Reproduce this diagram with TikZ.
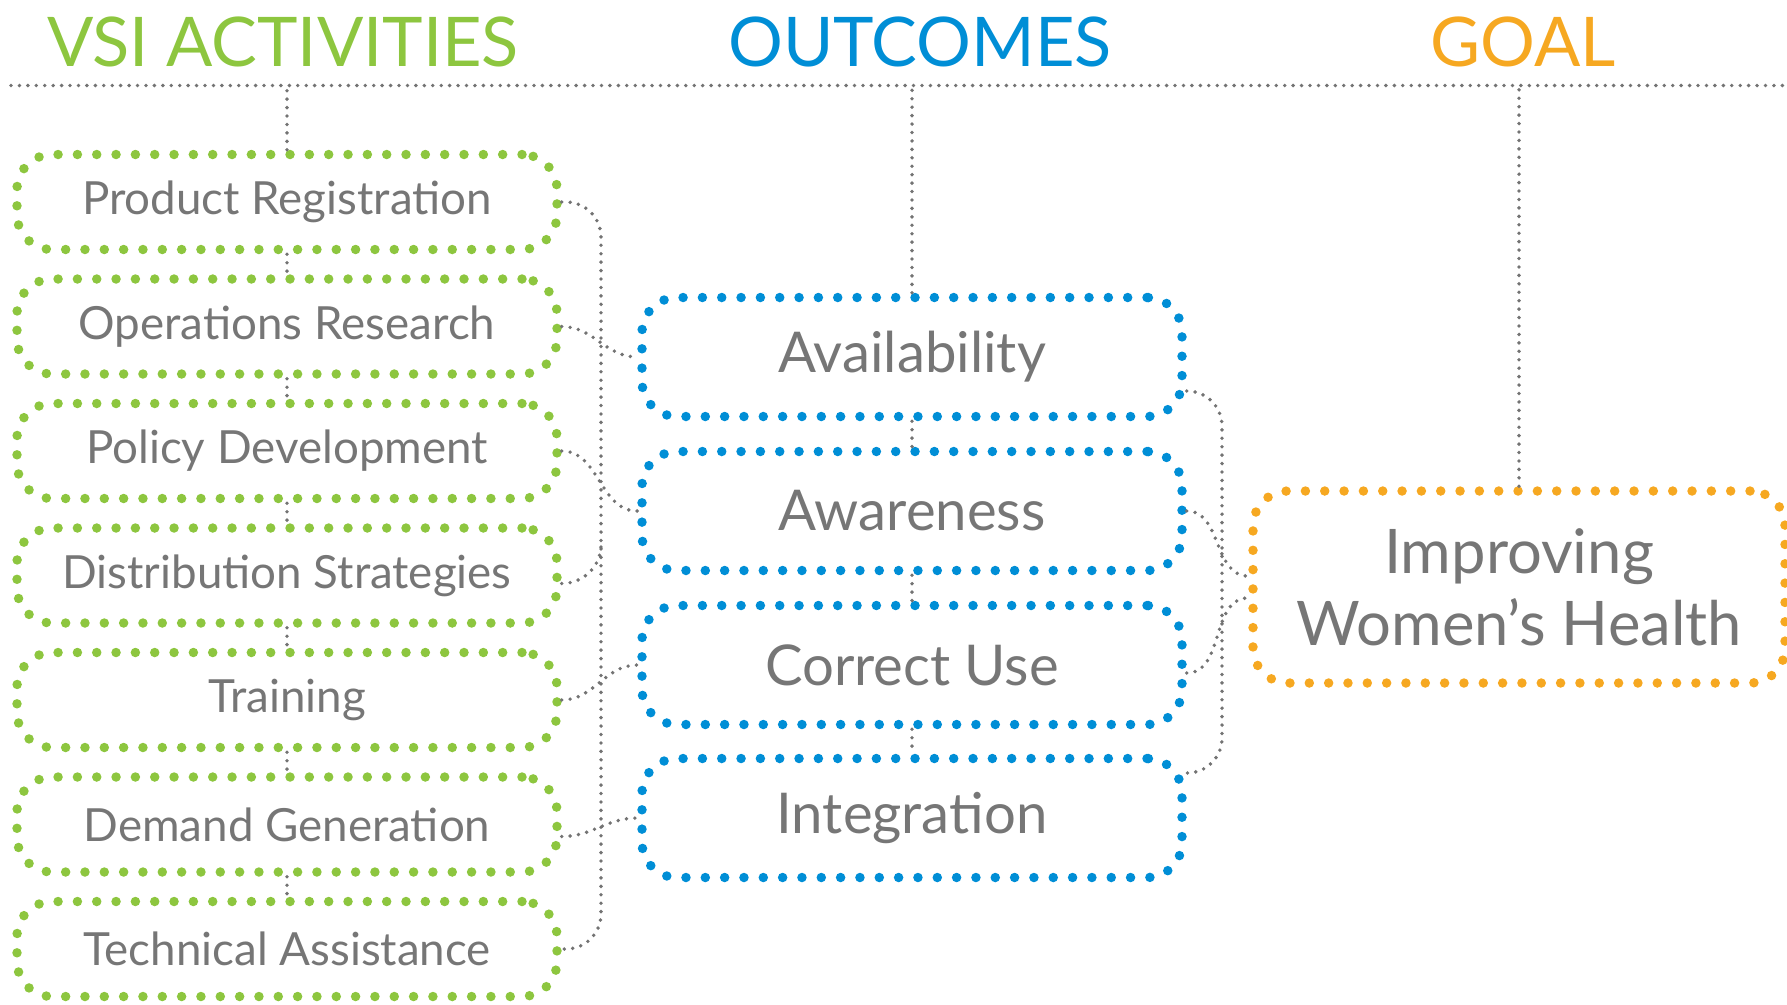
\documentclass[tikz,border=0pt]{standalone}
\usepackage{fontspec}
\setmainfont{Lato}
\usepackage{xcolor}
\usepackage{tikz}

\definecolor{vsigreen}{RGB}{141,198,63}
\definecolor{vsiblue}{RGB}{0,142,214}
\definecolor{vsiorange}{RGB}{246,168,33}
\definecolor{vsigray}{RGB}{118,118,118}
\definecolor{linkgray}{RGB}{115,115,115}

\tikzset{
  dotbox/.style={draw=#1, line width=2.7pt, dash pattern=on 0pt off 5.5pt,
    line cap=round, rounded corners=0.35cm, text=vsigray, inner sep=0pt, align=center},
  actbox/.style={dotbox=vsigreen, minimum width=5.40cm, minimum height=0.95cm,
    font=\fontsize{13}{15}\selectfont},
  outbox/.style={dotbox=vsiblue, minimum width=5.40cm, minimum height=1.19cm,
    font=\fontsize{16}{19}\selectfont},
  goalbox/.style={dotbox=vsiorange, minimum width=5.32cm, minimum height=1.92cm,
    font=\fontsize{17.5}{20.5}\selectfont},
  heading/.style={anchor=base, font=\fontsize{19.5}{23}\selectfont},
  link/.style={draw=linkgray, line width=1.1pt, dash pattern=on 0pt off 2.4pt, line cap=round}
}

\begin{document}
\begin{tikzpicture}
\useasboundingbox (0,0) rectangle (17.87,-10.04);

\node[heading, text=vsigreen] (hact) at (2.83,-0.66) {VSI ACTIVITIES};
\node[heading, text=vsiblue] (hout) at (9.20,-0.66) {OUTCOMES};
\node[heading, text=vsiorange] (hgoal) at (15.23,-0.66) {GOAL};
\coordinate (hl) at (0.11,-0.855);
\coordinate (hr) at (17.87,-0.855);
\draw[link] (hl) -- (hr);

% activities
\node[actbox] (pr) at (2.87,-2.02) {Product Registration};
\node[actbox] (or) at (2.87,-3.265) {Operations Research};
\node[actbox] (pd) at (2.87,-4.51) {Policy Development};
\node[actbox] (ds) at (2.87,-5.755) {Distribution Strategies};
\node[actbox] (tr) at (2.87,-7.00) {Training};
\node[actbox] (dg) at (2.87,-8.245) {Demand Generation};
\node[actbox] (ta) at (2.87,-9.49) {Technical Assistance};

% outcomes
\node[outbox] (av) at (9.12,-3.57) {Availability};
\node[outbox] (aw) at (9.12,-5.11) {Awareness};
\node[outbox] (cu) at (9.12,-6.65) {Correct Use};
\node[outbox] (ig) at (9.12,-8.18) {Integration};

% goal
\node[goalbox] (gl) at (15.19,-5.87) {Improving\\Women’s Health};

% drops from the header line
\draw[link] (pr.north) -- (pr.north |- hl);
\draw[link] (av.north) -- (av.north |- hl);
\draw[link] (gl.north) -- (gl.north |- hl);
\draw[link] (pr.south) -- (or.north);
\draw[link] (or.south) -- (pd.north);
\draw[link] (pd.south) -- (ds.north);
\draw[link] (ds.south) -- (tr.north);
\draw[link] (tr.south) -- (dg.north);
\draw[link] (dg.south) -- (ta.north);
\draw[link] (av.south) -- (aw.north);
\draw[link] (aw.south) -- (cu.north);
\draw[link] (cu.south) -- (ig.north);

% left bus
\coordinate (lbus) at (6.01,-5.7);
\draw[link, rounded corners=0.35cm] (pr.east) -| (lbus) |- (ta.east);
\draw[link] (or.east) to[out=0, in=180] (av.west);
\draw[link] (pd.east) to[out=0, in=180] (aw.west);
\draw[link] ([yshift=-0.8mm]ds.east) to[out=0, in=-90] (6.01,-5.45);
\draw[link] (tr.east) to[out=0, in=180] (cu.west);
\draw[link] ([yshift=-1.2mm]dg.east) to[out=0, in=180] (ig.west);

% right bus
\coordinate (rbus) at (12.22,-5.9);
\draw[link, rounded corners=0.35cm] ([yshift=-3.4mm]av.east) -| (rbus) |- ([yshift=4.5mm]ig.east);
\draw[link] (aw.east) to[out=0, in=180] ([yshift=1.1mm]gl.west);
\draw[link] ([yshift=-0.8mm]cu.east) to[out=0, in=180] ([yshift=-1.1mm]gl.west);
\end{tikzpicture}
\end{document}
